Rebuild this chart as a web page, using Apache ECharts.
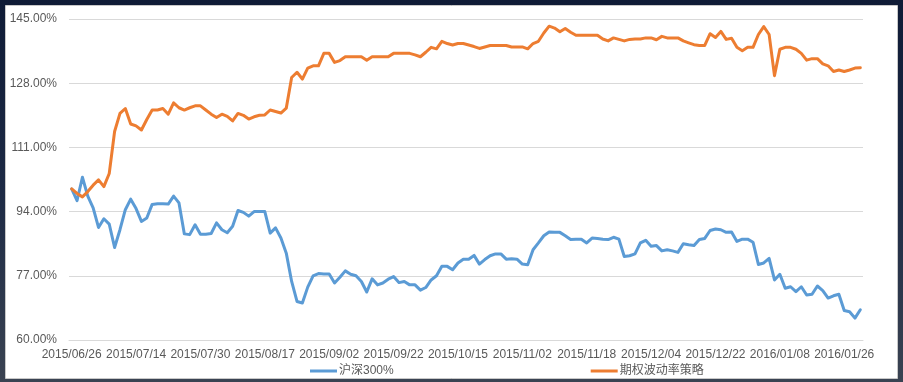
<!DOCTYPE html>
<html>
<head>
<meta charset="utf-8">
<script src="https://cdn.jsdelivr.net/npm/echarts@6/dist/echarts.min.js"></script>
<style>
html,body{margin:0;padding:0;width:903px;height:382px;overflow:hidden;
background:linear-gradient(180deg,#0f1b36 0%,#1d2a45 50%,#3a4352 100%);}
#chart{width:903px;height:382px;}
</style>
</head>
<body>
<div id="chart"></div>
<script>
// trading days by month
const tradingDays = [
  ["2015/06", [26,29,30]],
  ["2015/07", [1,2,3,6,7,8,9,10,13,14,15,16,17,20,21,22,23,24,27,28,29,30,31]],
  ["2015/08", [3,4,5,6,7,10,11,12,13,14,17,18,19,20,21,24,25,26,27,28,31]],
  ["2015/09", [1,2,7,8,9,10,11,14,15,16,17,18,21,22,23,24,25,28,29,30]],
  ["2015/10", [8,9,12,13,14,15,16,19,20,21,22,23,26,27,28,29,30]],
  ["2015/11", [2,3,4,5,6,9,10,11,12,13,16,17,18,19,20,23,24,25,26,27,30]],
  ["2015/12", [1,2,3,4,7,8,9,10,11,14,15,16,17,18,21,22,23,24,25,28,29,30,31]],
  ["2016/01", [4,5,6,7,8,11,12,13,14,15,18,19,20,21,22,25,26,27,28,29]]
];
const categories = [];
tradingDays.forEach(([m, days]) => days.forEach(d => categories.push(m + "/" + String(d).padStart(2, "0"))));

const seriesNames = ["沪深300%", "期权波动率策略"];

const hs300 = [
  100.0, 96.9, 103.1, 98.1, 95.0, 89.8, 92.1, 90.7, 84.5, 89.2,
  94.5, 97.3, 94.8, 91.4, 92.3, 95.9, 96.1, 96.1, 96.0, 98.1,
  96.3, 88.1, 87.9, 90.5, 88.0, 88.0, 88.2, 91.0, 89.2, 88.4,
  90.1, 94.3, 93.8, 92.8, 94.0, 94.0, 94.0, 88.3, 89.7, 87.0,
  83.0, 75.5, 70.2, 69.8, 74.0, 77.0, 77.6, 77.5, 77.5, 75.1,
  76.6, 78.3, 77.4, 77.0, 75.5, 72.7, 76.2, 74.6, 75.1, 76.1,
  76.8, 75.2, 75.5, 74.6, 74.6, 73.2, 73.9, 75.9, 77.0, 79.5,
  79.5, 78.6, 80.4, 81.4, 81.4, 82.4, 80.1, 81.3, 82.3, 82.8,
  82.8, 81.4, 81.5, 81.4, 80.1, 79.9, 83.9, 85.7, 87.6, 88.6,
  88.5, 88.5, 87.6, 86.6, 86.7, 86.7, 85.7, 87.0, 86.9, 86.7,
  86.6, 87.2, 86.7, 82.1, 82.3, 82.8, 85.7, 86.4, 84.8, 85.0,
  83.6, 83.9, 83.6, 83.2, 85.5, 85.2, 85.0, 86.6, 86.9, 89.0,
  89.4, 89.2, 88.5, 88.6, 86.1, 86.7, 86.7, 85.9, 80.0, 80.4,
  81.6, 75.9, 77.4, 73.7, 74.1, 72.8, 74.1, 71.9, 72.1, 74.3,
  73.1, 71.1, 71.7, 72.1, 67.8, 67.5, 65.8, 68.0
];

const strategy = [
  100.0, 98.8, 97.9, 99.3, 101.0, 102.4, 100.6, 104.1, 115.2, 120.0,
  121.3, 117.2, 116.7, 115.6, 118.4, 120.9, 120.9, 121.3, 119.8, 122.8,
  121.5, 120.9, 121.5, 122.0, 122.0, 120.9, 119.8, 118.9, 119.8, 119.2,
  118.0, 120.0, 119.5, 118.5, 119.1, 119.5, 119.6, 120.9, 120.5, 120.1,
  121.4, 129.5, 130.9, 129.1, 132.0, 132.6, 132.6, 135.9, 135.9, 133.5,
  134.0, 135.0, 135.0, 135.0, 135.0, 134.1, 135.0, 135.0, 135.0, 135.0,
  135.9, 135.9, 135.9, 135.9, 135.5, 135.0, 136.2, 137.5, 137.1, 139.1,
  138.5, 138.1, 138.5, 138.5, 138.1, 137.7, 137.2, 137.6, 138.0, 138.0,
  138.0, 138.0, 137.6, 137.6, 137.6, 137.1, 138.5, 139.1, 141.3, 143.1,
  142.6, 141.6, 142.5, 141.5, 140.7, 140.7, 140.7, 140.7, 140.7, 139.7,
  139.2, 140.0, 139.6, 139.2, 139.6, 139.7, 139.7, 140.0, 140.0, 139.5,
  140.4, 140.0, 140.0, 140.0, 139.2, 138.7, 138.2, 138.0, 138.0, 141.1,
  140.1, 141.7, 139.6, 139.9, 137.5, 136.6, 137.5, 137.5, 140.9, 143.0,
  140.9, 130.0, 137.0, 137.5, 137.5, 137.0, 135.9, 134.1, 134.5, 134.5,
  133.1, 132.6, 131.1, 131.5, 131.1, 131.5, 132.0, 132.1
];

const yTicks = { min: 60, max: 145, step: 17 };

const FONT = "'Liberation Sans', Arial, 'Noto Sans CJK SC', sans-serif";
const chart = echarts.init(document.getElementById('chart'), null, { renderer: 'canvas' });
chart.setOption({
  backgroundColor: 'transparent',
  animation: false,
  textStyle: { fontFamily: FONT },
  graphic: [{
    type: 'rect', left: 5, top: 5, z: -10, silent: true,
    shape: { width: 892, height: 373 },
    style: { fill: '#ffffff', stroke: '#c8c8c8', lineWidth: 1 }
  }],
  grid: { left: 69, right: 40, top: 19, bottom: 42, containLabel: false },
  legend: {
    left: 305, top: 360, orient: 'horizontal',
    itemGap: 197, itemWidth: 27, itemHeight: 3, icon: 'rect',
    textStyle: { fontSize: 12, color: '#595959', fontFamily: FONT, padding: [0, 0, 0, -3] },
    data: seriesNames
  },
  xAxis: {
    type: 'category', data: categories, boundaryGap: true,
    axisLine: { show: true, lineStyle: { color: '#d9d9d9', width: 1 } },
    axisTick: { show: false },
    axisLabel: { interval: 11, color: '#595959', fontSize: 12, margin: 9, fontFamily: FONT }
  },
  yAxis: {
    type: 'value', min: yTicks.min, max: yTicks.max, interval: yTicks.step,
    axisLine: { show: false }, axisTick: { show: false },
    axisLabel: { color: '#595959', fontSize: 12, margin: 12, fontFamily: FONT,
      formatter: v => v.toFixed(2) + '%' },
    splitLine: { lineStyle: { color: '#d9d9d9', width: 1 } }
  },
  series: [
    { name: seriesNames[0], type: 'line', data: hs300, showSymbol: false, symbol: 'none',
      lineStyle: { color: '#5B9BD5', width: 3, join: 'round', cap: 'round' }, itemStyle: { color: '#5B9BD5' } },
    { name: seriesNames[1], type: 'line', data: strategy, showSymbol: false, symbol: 'none',
      lineStyle: { color: '#ED7D31', width: 3, join: 'round', cap: 'round' }, itemStyle: { color: '#ED7D31' } }
  ]
});
</script>
</body>
</html>
